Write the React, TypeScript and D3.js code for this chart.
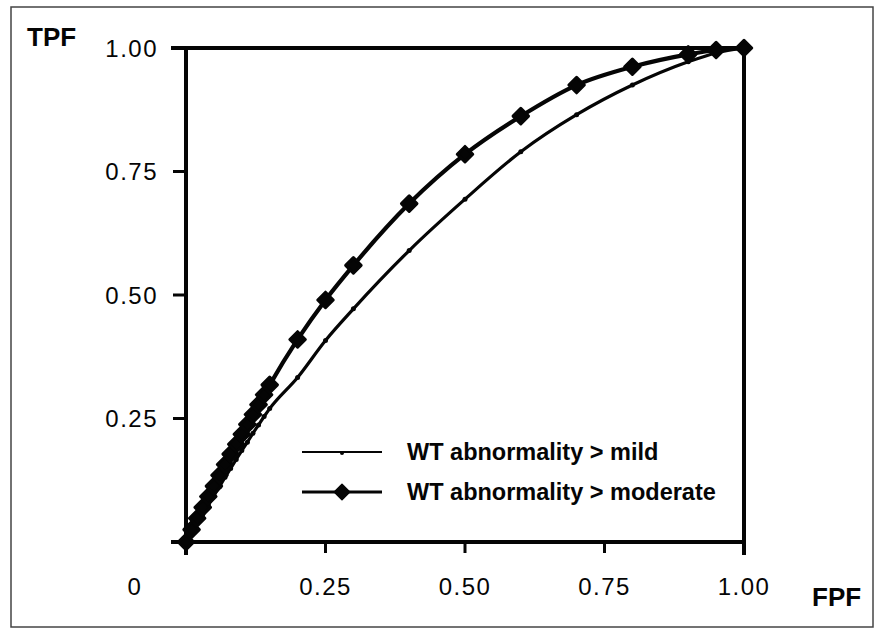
import React, { useEffect, useRef } from "react";
import * as d3 from "d3";

// ROC points (FPF on x, TPF on y)
const fpf = [
  0, 0.01, 0.02, 0.03, 0.04, 0.05, 0.06, 0.07, 0.08, 0.09, 0.1, 0.11, 0.12,
  0.13, 0.14, 0.15, 0.2, 0.25, 0.3, 0.4, 0.5, 0.6, 0.7, 0.8, 0.9, 0.95, 1.0,
];
const tpfMild = [
  0, 0.019, 0.037, 0.056, 0.075, 0.094, 0.112, 0.131, 0.149, 0.167, 0.185,
  0.202, 0.22, 0.237, 0.254, 0.27, 0.333, 0.408, 0.472, 0.59, 0.694, 0.79,
  0.865, 0.925, 0.972, 0.99, 1.0,
];
const tpfModerate = [
  0, 0.025, 0.048, 0.07, 0.092, 0.113, 0.135, 0.157, 0.178, 0.198, 0.218,
  0.238, 0.258, 0.278, 0.298, 0.318, 0.41, 0.49, 0.56, 0.685, 0.785, 0.862,
  0.925, 0.962, 0.987, 0.996, 1.0,
];
const xTicks = [0, 0.25, 0.5, 0.75, 1.0];
const xTickLabels = ["0", "0.25", "0.50", "0.75", "1.00"];
const yTicks = [0.25, 0.5, 0.75, 1.0];
const yTickLabels = ["0.25", "0.50", "0.75", "1.00"];
const legendLabels = ["WT abnormality > mild", "WT abnormality > moderate"];

const App = () => {
  const svgRef = useRef<SVGSVGElement>(null);

  useEffect(() => {
    const svg = d3.select(svgRef.current);
    svg.selectAll("*").remove();

    const x = d3.scaleLinear().domain([0, 1]).range([186, 744]);
    const y = d3.scaleLinear().domain([0, 1]).range([542, 48]);
    const ink = "#050505";
    const font = "'Liberation Sans', Arial, Helvetica, sans-serif";

    // outer frame
    svg
      .append("rect")
      .attr("x", 11)
      .attr("y", 7)
      .attr("width", 862)
      .attr("height", 620)
      .attr("fill", "none")
      .attr("stroke", "#444")
      .attr("stroke-width", 1.5);

    // box: left, bottom, top, right
    const box = svg.append("g").attr("stroke", ink).attr("stroke-width", 4).attr("stroke-linecap", "square");
    box.append("line").attr("x1", x(0)).attr("x2", x(0)).attr("y1", y(1)).attr("y2", y(0) + 11);
    box.append("line").attr("x1", x(0) - 13).attr("x2", x(1)).attr("y1", y(0)).attr("y2", y(0));
    box.append("line").attr("x1", x(0) - 13).attr("x2", x(1)).attr("y1", y(1)).attr("y2", y(1));
    box.append("line").attr("x1", x(1)).attr("x2", x(1)).attr("y1", y(1)).attr("y2", y(0) + 11);

    // ticks
    const ticks = svg.append("g").attr("stroke", ink).attr("stroke-width", 3);
    xTicks.forEach((t) => {
      ticks.append("line").attr("x1", x(t)).attr("x2", x(t)).attr("y1", y(0)).attr("y2", y(0) + 11);
    });
    yTicks.forEach((t) => {
      ticks.append("line").attr("x1", x(0) - 13).attr("x2", x(0)).attr("y1", y(t)).attr("y2", y(t));
    });

    // tick labels
    const labels = svg
      .append("g")
      .attr("font-family", font)
      .attr("font-size", 24)
      .attr("letter-spacing", 1.5)
      .attr("fill", ink);
    xTicks.forEach((t, i) => {
      labels
        .append("text")
        .attr("x", i === 0 ? x(t) - 51 : x(t))
        .attr("y", 595)
        .attr("text-anchor", "middle")
        .text(xTickLabels[i]);
    });
    yTicks.forEach((t, i) => {
      labels
        .append("text")
        .attr("x", 158)
        .attr("y", y(t))
        .attr("dy", "0.36em")
        .attr("text-anchor", "end")
        .text(yTickLabels[i]);
    });

    // axis titles
    svg
      .append("text")
      .attr("x", 27)
      .attr("y", 46)
      .attr("font-family", font)
      .attr("font-weight", "bold")
      .attr("font-size", 26)
      .attr("fill", ink)
      .text("TPF");
    svg
      .append("text")
      .attr("x", 812)
      .attr("y", 606)
      .attr("font-family", font)
      .attr("font-weight", "bold")
      .attr("font-size", 26)
      .attr("fill", ink)
      .text("FPF");

    const line = d3
      .line<number>()
      .x((d, i) => x(fpf[i]))
      .y((d) => y(d))
      .curve(d3.curveMonotoneX);

    const diamond = d3.symbol().type(d3.symbolSquare).size(120);

    // mild series
    svg
      .append("path")
      .datum(tpfMild)
      .attr("d", line)
      .attr("fill", "none")
      .attr("stroke", ink)
      .attr("stroke-width", 3.2);
    svg
      .append("g")
      .selectAll("circle")
      .data(tpfMild)
      .join("circle")
      .attr("cx", (d, i) => x(fpf[i]))
      .attr("cy", (d) => y(d))
      .attr("r", 2.5)
      .attr("fill", ink);

    // moderate series
    svg
      .append("path")
      .datum(tpfModerate)
      .attr("d", line)
      .attr("fill", "none")
      .attr("stroke", ink)
      .attr("stroke-width", 4.2);
    svg
      .append("g")
      .selectAll("path")
      .data(tpfModerate)
      .join("path")
      .attr("d", diamond)
      .attr("transform", (d, i) => `translate(${x(fpf[i])},${y(d)}) rotate(45)`)
      .attr("fill", ink)
      .attr("stroke", ink)
      .attr("stroke-width", 3)
      .attr("stroke-linejoin", "round");

    // legend
    const legend = svg.append("g").attr("font-family", font).attr("font-weight", "bold").attr("font-size", 23.5).attr("fill", ink);
    const rows = [452, 492];
    rows.forEach((ly, i) => {
      legend
        .append("line")
        .attr("x1", 302)
        .attr("x2", 382)
        .attr("y1", ly)
        .attr("y2", ly)
        .attr("stroke", ink)
        .attr("stroke-width", i === 0 ? 2 : 3);
      if (i === 0) {
        legend.append("circle").attr("cx", 342).attr("cy", ly + 1).attr("r", 2).attr("fill", ink);
      } else {
        legend
          .append("path")
          .attr("d", diamond)
          .attr("transform", `translate(342,${ly}) rotate(45)`)
          .attr("fill", ink)
          .attr("stroke", ink)
          .attr("stroke-width", 1.5)
          .attr("stroke-linejoin", "round");
      }
      legend
        .append("text")
        .attr("x", 407)
        .attr("y", ly + 6)
        .attr("dy", "0.1em")
        .text(legendLabels[i]);
    });
  }, []);

  return (
    <svg
      ref={svgRef}
      width={875}
      height={630}
      style={{ position: "absolute", left: 0, top: 0, background: "#fff" }}
    ></svg>
  );
};

export default App;
